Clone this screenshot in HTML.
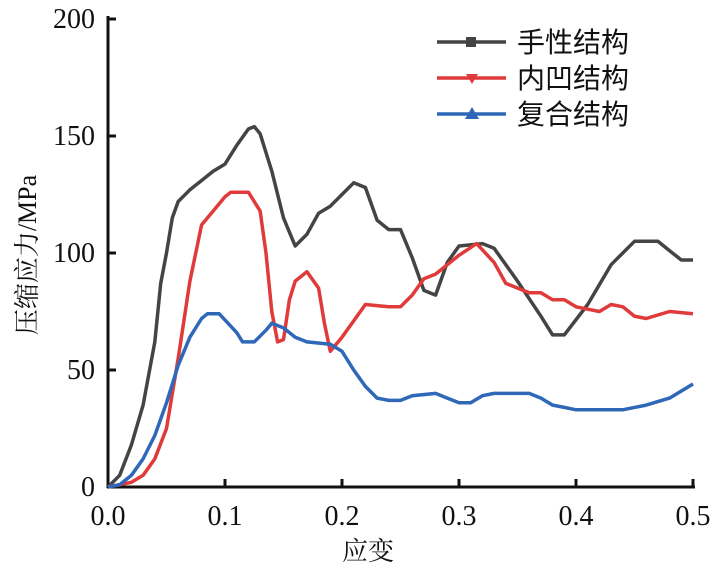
<!DOCTYPE html>
<html><head><meta charset="utf-8"><style>
html,body{margin:0;padding:0;background:#fff;}
svg{display:block;}
</style></head><body>
<svg id="s" width="716" height="570" viewBox="0 0 716 570" xmlns="http://www.w3.org/2000/svg">
<g stroke="#111" stroke-width="3" fill="none">
<line x1="108" y1="16" x2="108" y2="488"/>
<line x1="107" y1="487" x2="695" y2="487"/>
<line x1="108" y1="19" x2="116" y2="19"/>
<line x1="108" y1="136" x2="116" y2="136"/>
<line x1="108" y1="253" x2="116" y2="253"/>
<line x1="108" y1="370" x2="116" y2="370"/>
<line x1="225" y1="487" x2="225" y2="479"/>
<line x1="342" y1="487" x2="342" y2="479"/>
<line x1="459" y1="487" x2="459" y2="479"/>
<line x1="576" y1="487" x2="576" y2="479"/>
<line x1="693" y1="487" x2="693" y2="479"/>
</g>
<g font-family="'Liberation Serif', serif" font-size="28" fill="#111" text-anchor="end">
<text x="95" y="28">200</text><text x="95" y="145">150</text><text x="95" y="262">100</text><text x="95" y="379">50</text><text x="95" y="496">0</text>
</g>
<g font-family="'Liberation Serif', serif" font-size="28" fill="#111" text-anchor="middle">
<text x="108" y="525">0.0</text><text x="225" y="525">0.1</text><text x="342" y="525">0.2</text><text x="459" y="525">0.3</text><text x="576" y="525">0.4</text><text x="693" y="525">0.5</text>
</g>
<text font-family="'Liberation Serif','Noto Serif CJK SC',serif" fill="#111" x="368" y="560" font-size="26" text-anchor="middle">应变</text>
<text font-family="'Liberation Serif','Noto Serif CJK SC',serif" fill="#111" x="0" y="0" font-size="26" text-anchor="middle" transform="translate(36,255) rotate(-90)">压缩应力/MPa</text>
<g id="series"></g>
<g stroke-width="3.5">
<line x1="437" y1="42" x2="506" y2="42" stroke="#444"/><rect x="466" y="37" width="10" height="10" fill="#444"/>
<line x1="437" y1="78" x2="506" y2="78" stroke="#e03a3a"/><path d="M466 74 L478 74 L472 84Z" fill="#e03a3a"/>
<line x1="437" y1="114" x2="506" y2="114" stroke="#2f68b8"/><path d="M465 119 L479 119 L472 107Z" fill="#2f68b8"/>
</g>
<g font-family="'Liberation Sans','Noto Sans CJK SC',sans-serif" fill="#111" font-size="28">
<text x="517" y="52">手性结构</text><text x="517" y="88">内凹结构</text><text x="517" y="124">复合结构</text>
</g>
</svg>
<script>
var B=[[0,0],[0.01,5],[0.02,18],[0.03,35],[0.04,62],[0.045,87],[0.05,100],[0.055,115],[0.06,122],[0.07,127],[0.08,131],[0.09,135],[0.1,138],[0.11,146],[0.12,153],[0.125,154],[0.13,151],[0.14,135],[0.15,115],[0.16,103],[0.17,108],[0.18,117],[0.19,120],[0.2,125],[0.21,130],[0.22,128],[0.23,114],[0.24,110],[0.25,110],[0.26,98],[0.27,84],[0.28,82],[0.29,96],[0.3,103],[0.32,104],[0.33,102],[0.35,88],[0.37,73],[0.38,65],[0.39,65],[0.41,78],[0.43,95],[0.45,105],[0.47,105],[0.48,101],[0.49,97],[0.5,97]];
var R=[[0,0],[0.02,2],[0.03,5],[0.04,12],[0.05,25],[0.06,55],[0.07,88],[0.08,112],[0.09,118],[0.1,124],[0.105,126],[0.12,126],[0.13,118],[0.135,100],[0.14,75],[0.145,62],[0.15,63],[0.155,80],[0.16,88],[0.17,92],[0.18,85],[0.185,70],[0.19,58],[0.2,64],[0.21,71],[0.22,78],[0.24,77],[0.25,77],[0.26,82],[0.27,89],[0.28,91],[0.3,99],[0.315,104],[0.33,96],[0.34,87],[0.36,83],[0.37,83],[0.38,80],[0.39,80],[0.4,77],[0.41,76],[0.42,75],[0.43,78],[0.44,77],[0.45,73],[0.46,72],[0.48,75],[0.5,74]];
var L=[[0,0],[0.01,1],[0.02,5],[0.03,12],[0.04,22],[0.05,36],[0.06,52],[0.07,64],[0.08,72],[0.085,74],[0.095,74],[0.11,66],[0.115,62],[0.125,62],[0.135,67],[0.14,70],[0.15,68],[0.16,64],[0.17,62],[0.19,61],[0.2,58],[0.21,50],[0.22,43],[0.23,38],[0.24,37],[0.25,37],[0.26,39],[0.28,40],[0.29,38],[0.3,36],[0.31,36],[0.32,39],[0.33,40],[0.36,40],[0.37,38],[0.38,35],[0.39,34],[0.4,33],[0.44,33],[0.46,35],[0.48,38],[0.5,44]];
function X(e){return 108+1170*e}function Y(s){return 487-2.34*s}
var g=document.getElementById('series'),h='';
[[B,'#444'],[R,'#e03a3a'],[L,'#2f68b8']].forEach(function(a){
 var d=a[0].map(function(p,i){return (i?'L':'M')+X(p[0]).toFixed(1)+' '+Y(p[1]).toFixed(1)}).join(' ');
 h+='<path d="'+d+'" fill="none" stroke="'+a[1]+'" stroke-width="3.5" stroke-linejoin="round"/>';
});
g.innerHTML=h;
</script>
</body></html>
